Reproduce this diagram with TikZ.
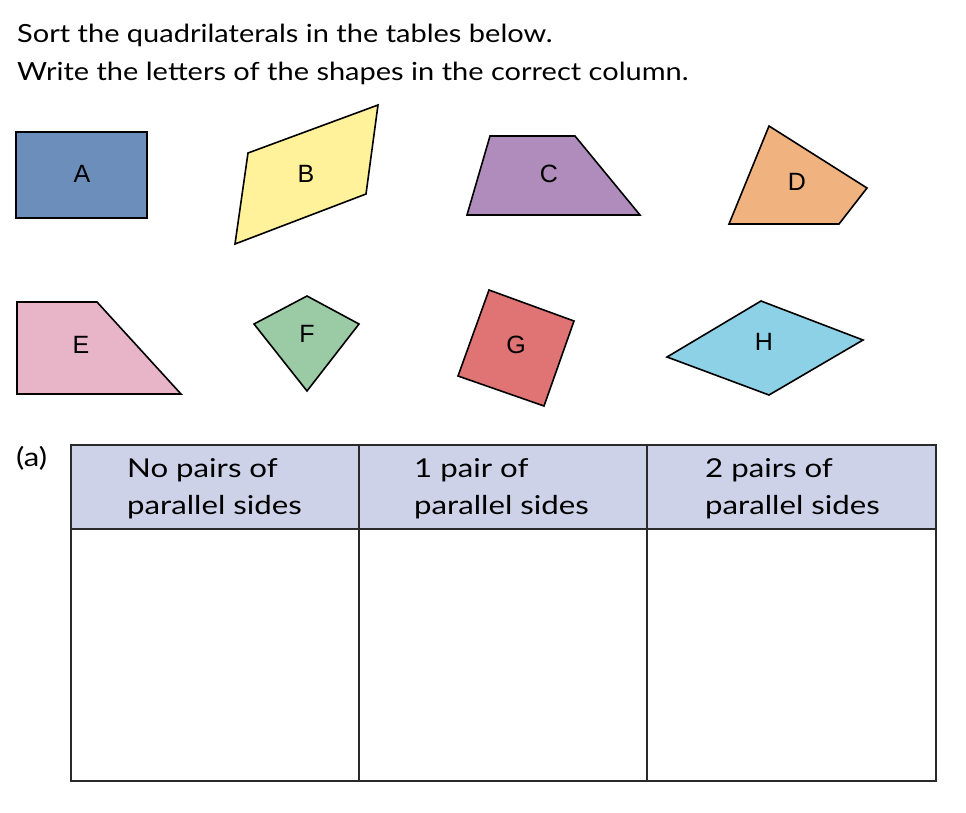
\documentclass[tikz,border=0pt]{standalone}
\usepackage{fontspec}
\setmainfont{Lato}
\newfontfamily\instrfont{Lato}[FakeStretch=1.16]
\newfontfamily\headfont{Lato}[FakeStretch=1.2]
\newfontfamily\letterfont{Liberation Sans}
\definecolor{cA}{HTML}{6B8EBB}
\definecolor{cB}{HTML}{FFF29A}
\definecolor{cC}{HTML}{B08CBC}
\definecolor{cD}{HTML}{F0B27E}
\definecolor{cE}{HTML}{E8B4C8}
\definecolor{cF}{HTML}{9BCBA5}
\definecolor{cG}{HTML}{E07474}
\definecolor{cH}{HTML}{8DD1E6}
\definecolor{hdr}{HTML}{CDD2E8}
\definecolor{lin}{HTML}{2A2A2A}
\tikzset{
  quad/.style={draw=black, line width=1.6pt, line join=miter},
  lbl/.style={font=\letterfont\fontsize{25}{28}\selectfont, inner sep=0pt},
  instr/.style={font=\instrfont\fontsize{25}{30}\selectfont, anchor=base west, inner sep=0pt},
  head/.style={font=\headfont\fontsize{26}{30}\selectfont, anchor=base west, inner sep=0pt},
  grid/.style={draw=lin, line width=2pt}
}
\begin{document}
\begin{tikzpicture}[x=1pt,y=-1pt]
\useasboundingbox (0,0) rectangle (966,812);
% instructions
\node[instr] (t1) at (17,42) {Sort the quadrilaterals in the tables below.};
\node[instr] (t2) at (17,80) {Write the letters of the shapes in the correct column.};
% shapes
\draw[quad, fill=cA] (16,132) -- (147,132) -- (147,218) -- (16,218) -- cycle;
\node[lbl] (A) at (82,174) {A};
\draw[quad, fill=cB] (248,153) -- (378,105) -- (366,194) -- (235,244) -- cycle;
\node[lbl] (B) at (306,174) {B};
\draw[quad, fill=cC] (490,136) -- (575,136) -- (640,215) -- (467,215) -- cycle;
\node[lbl] (C) at (549,174) {C};
\draw[quad, fill=cD] (769,126) -- (867,188) -- (839,224) -- (729,224) -- cycle;
\node[lbl] (D) at (797,182) {D};
\draw[quad, fill=cE] (17,302) -- (97,302) -- (181,394) -- (17,394) -- cycle;
\node[lbl] (E) at (81,345) {E};
\draw[quad, fill=cF] (307,296) -- (359,324) -- (307,391) -- (254,324) -- cycle;
\node[lbl] (F) at (307,334) {F};
\draw[quad, fill=cG] (489,290) -- (574,321) -- (544,406) -- (458,376) -- cycle;
\node[lbl] (G) at (516,345) {G};
\draw[quad, fill=cH] (761,301) -- (863,340) -- (769,395) -- (667,357) -- cycle;
\node[lbl] (H) at (764,342) {H};
% table
\fill[hdr] (71,445) rectangle (936,529);
\draw[grid] (71,445) rectangle (936,781);
\draw[grid] (71,529) -- (936,529);
\draw[grid] (359,445) -- (359,781);
\draw[grid] (647,445) -- (647,781);
\node[head] (pa) at (16,466) {(a)};
\node[head] (h1a) at (127,477) {No pairs of};
\node[head] (h1b) at (127,514) {parallel sides};
\node[head] (h2a) at (414,477) {1 pair of};
\node[head] (h2b) at (414,514) {parallel sides};
\node[head] (h3a) at (705,477) {2 pairs of};
\node[head] (h3b) at (705,514) {parallel sides};
\end{tikzpicture}
\end{document}
